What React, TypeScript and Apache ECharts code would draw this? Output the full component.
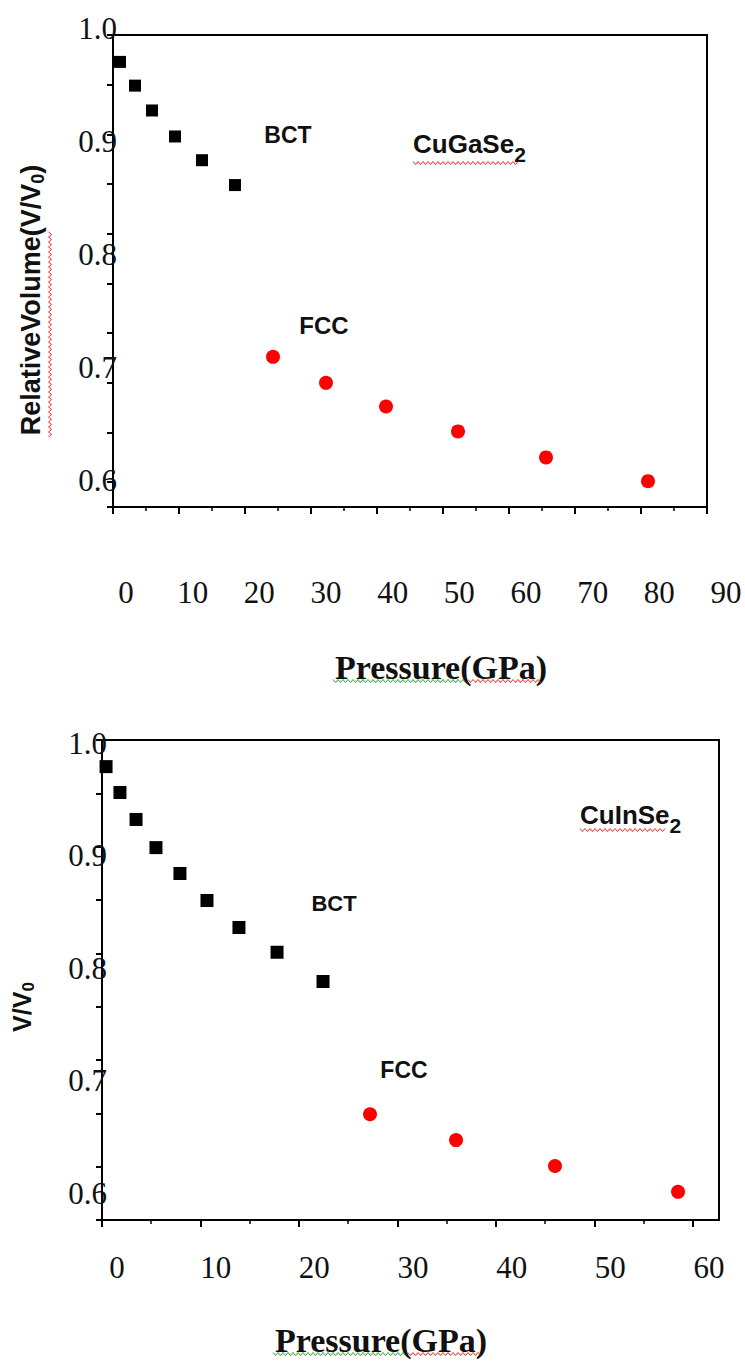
import React, { useEffect, useRef } from "react";
import * as echarts from "echarts";

// ---- Data (in the units of the printed tick labels) ----
// Top panel: CuGaSe2
const topBctPressure = [-0.9, 1.35, 3.9, 7.35, 11.4, 16.35];
const topBctVolume = [0.97, 0.949, 0.927, 0.904, 0.883, 0.861];
const topFccPressure = [22.05, 30.0, 39.0, 49.8, 63.0, 78.3];
const topFccVolume = [0.709, 0.686, 0.665, 0.643, 0.62, 0.599];
// Bottom panel: CuInSe2
const botBctPressure = [-1.11, 0.3, 1.93, 3.95, 6.38, 9.12, 12.36, 16.22, 20.88];
const botBctVolume = [0.979, 0.956, 0.932, 0.907, 0.884, 0.86, 0.836, 0.814, 0.788];
const botFccPressure = [25.64, 34.36, 44.39, 56.86];
const botFccVolume = [0.67, 0.647, 0.624, 0.601];

// Tick marks of the frames
const botMajorTicks = [0, 10, 20, 30, 40, 50, 60];
const botMinorTicks = [5, 15, 25, 35, 45, 55];

const serif = "'Liberation Serif', 'Times New Roman', serif";
const sans = "'Liberation Sans', Arial, sans-serif";
const ink = "#111";

const zip = (a: number[], b: number[]) => a.map((v, i) => [v, b[i]]);

function zigH(x0: number, x1: number, y: number, color: string) {
  const pts: number[][] = [];
  let i = 0;
  for (let x = x0; x <= x1; x += 2.5, i++) pts.push([x, y + (i % 2 ? 1.5 : -1.5)]);
  return { type: "polyline", silent: true, shape: { points: pts }, style: { stroke: color, lineWidth: 1, fill: null } };
}
function zigV(x: number, y0: number, y1: number, color: string) {
  const pts: number[][] = [];
  let i = 0;
  for (let y = y0; y <= y1; y += 2.5, i++) pts.push([x + (i % 2 ? 1.5 : -1.5), y]);
  return { type: "polyline", silent: true, shape: { points: pts }, style: { stroke: color, lineWidth: 1, fill: null } };
}

const frameLine = { show: true, onZero: false, lineStyle: { color: "#000", width: 2 } };
const noLine = { show: false, onZero: false };

function labelText(x: number, y: number, text: string, size = 23) {
  return {
    type: "text",
    x,
    y,
    silent: true,
    style: { text, fontFamily: sans, fontWeight: "bold", fontSize: size, fill: ink, align: "center", verticalAlign: "middle" },
  };
}

function formula(x: number, y: number, main: string, sub: string) {
  return {
    type: "text",
    x,
    y,
    silent: true,
    style: {
      text: `{m|${main}}{s|${sub}}`,
      fill: ink,
      align: "left",
      verticalAlign: "top",
      rich: {
        m: { fontFamily: sans, fontWeight: "bold", fontSize: 26, lineHeight: 30, verticalAlign: "top", fill: ink },
        s: { fontFamily: sans, fontWeight: "bold", fontSize: 21, lineHeight: 22, padding: [13, 0, 0, 0], verticalAlign: "top", fill: ink },
      },
    },
  };
}

function yTitle(x: number, y: number, main: string, sub: string, tail: string, size: number) {
  return {
    type: "text",
    x,
    y,
    rotation: Math.PI / 2,
    silent: true,
    style: {
      text: `{m|${main}}{s|${sub}}{m|${tail}}`,
      fill: ink,
      align: "center",
      verticalAlign: "middle",
      rich: {
        m: { fontFamily: sans, fontWeight: "bold", fontSize: size, lineHeight: size + 4, verticalAlign: "top", fill: ink },
        s: { fontFamily: sans, fontWeight: "bold", fontSize: Math.round(size * 0.68), lineHeight: Math.round(size * 0.68), padding: [Math.round(size * 0.4), 0, 0, 0], verticalAlign: "top", fill: ink },
      },
    },
  };
}

function xTitle(x: number, y: number) {
  return {
    type: "text",
    x,
    y,
    silent: true,
    style: { text: "Pressure(GPa)", fontFamily: serif, fontWeight: "bold", fontSize: 34, fill: ink, align: "center", verticalAlign: "middle" },
  };
}

export default function App() {
  const ref = useRef<HTMLDivElement>(null);
  useEffect(() => {
    if (!ref.current) return;
    const chart = echarts.init(ref.current, null, { renderer: "svg" });
    const tickLabel = { fontFamily: serif, fontSize: 31, color: ink };
    const option: any = {
      animation: false,
      backgroundColor: "#fff",
      grid: [
        { left: 113, top: 35, width: 594, height: 472, show: true, borderColor: "#000", borderWidth: 2, backgroundColor: "transparent", outerBoundsMode: "none" },
        { left: 126, top: 28, width: 600, height: 452, outerBoundsMode: "none" },
        { left: 102, top: 740, width: 617, height: 480, show: true, borderColor: "#000", borderWidth: 2, backgroundColor: "transparent", outerBoundsMode: "none" },
        { left: 117, top: 743, width: 592, height: 450, outerBoundsMode: "none" },
      ],
      xAxis: [
        {
          gridIndex: 0, type: "value", min: 0, max: 90, interval: 10, position: "bottom",
          axisLine: frameLine,
          axisTick: { show: true, inside: false, length: 7, lineStyle: { color: "#000", width: 2 } },
          minorTick: { show: true, splitNumber: 2, length: 4, lineStyle: { color: "#000", width: 1.5 } },
          axisLabel: { show: false }, splitLine: { show: false }, minorSplitLine: { show: false },
        },
        {
          gridIndex: 1, type: "value", min: 0, max: 90, interval: 10, position: "bottom",
          axisLine: noLine, axisTick: { show: false }, splitLine: { show: false },
          axisLabel: { ...tickLabel, margin: 112, verticalAlign: "middle", showMinLabel: true, showMaxLabel: true },
        },
        {
          gridIndex: 2, type: "value", min: 0, max: 62.64, position: "bottom",
          axisLine: frameLine,
          axisTick: { show: true, inside: false, length: 7, customValues: botMajorTicks, lineStyle: { color: "#000", width: 2 } },
          axisLabel: { show: false }, splitLine: { show: false },
        },
        {
          gridIndex: 2, type: "value", min: 0, max: 62.64, position: "bottom",
          axisLine: noLine,
          axisTick: { show: true, inside: false, length: 4, customValues: botMinorTicks, lineStyle: { color: "#000", width: 1.5 } },
          axisLabel: { show: false }, splitLine: { show: false },
        },
        {
          gridIndex: 3, type: "value", min: 0, max: 60, interval: 10, position: "bottom",
          axisLine: noLine, axisTick: { show: false }, splitLine: { show: false },
          axisLabel: { ...tickLabel, margin: 74, verticalAlign: "middle", showMinLabel: true, showMaxLabel: true },
        },
      ],
      yAxis: [
        {
          gridIndex: 0, type: "value", min: 0, max: 9.5, interval: 1, inverse: true, position: "left",
          axisLine: frameLine,
          axisTick: { show: true, inside: false, length: 6, lineStyle: { color: "#000", width: 2 } },
          axisLabel: { show: false }, splitLine: { show: false },
        },
        {
          gridIndex: 1, type: "value", min: 0.6, max: 1.0, interval: 0.1, position: "left",
          axisLine: noLine, axisTick: { show: false }, splitLine: { show: false },
          axisLabel: { ...tickLabel, margin: 9, showMinLabel: true, showMaxLabel: true, formatter: (v: number) => v.toFixed(1) },
        },
        {
          gridIndex: 2, type: "value", min: 0, max: 9, interval: 1, position: "left",
          axisLine: frameLine,
          axisTick: { show: true, inside: false, length: 6, lineStyle: { color: "#000", width: 2 } },
          axisLabel: { show: false }, splitLine: { show: false },
        },
        {
          gridIndex: 3, type: "value", min: 0.6, max: 1.0, interval: 0.1, position: "left",
          axisLine: noLine, axisTick: { show: false }, splitLine: { show: false },
          axisLabel: { ...tickLabel, margin: 10, showMinLabel: true, showMaxLabel: true, formatter: (v: number) => v.toFixed(1) },
        },
      ],
      series: [
        { name: "CuGaSe2 BCT", type: "scatter", xAxisIndex: 1, yAxisIndex: 1, data: zip(topBctPressure, topBctVolume), symbol: "rect", symbolSize: 12, itemStyle: { color: "#000", opacity: 1 }, clip: false },
        { name: "CuGaSe2 FCC", type: "scatter", xAxisIndex: 1, yAxisIndex: 1, data: zip(topFccPressure, topFccVolume), symbol: "circle", symbolSize: 14, itemStyle: { color: "#ff0000", opacity: 1 }, clip: false },
        { name: "CuInSe2 BCT", type: "scatter", xAxisIndex: 4, yAxisIndex: 3, data: zip(botBctPressure, botBctVolume), symbol: "rect", symbolSize: 13, itemStyle: { color: "#000", opacity: 1 }, clip: false },
        { name: "CuInSe2 FCC", type: "scatter", xAxisIndex: 4, yAxisIndex: 3, data: zip(botFccPressure, botFccVolume), symbol: "circle", symbolSize: 14, itemStyle: { color: "#ff0000", opacity: 1 }, clip: false },
      ],
      graphic: [
        labelText(288, 135, "BCT"),
        labelText(324, 325, "FCC", 24),
        formula(413, 131, "CuGaSe", "2"),
        yTitle(33, 300, "RelativeVolume(V/V", "0", ")", 27),
        xTitle(441, 667),
        labelText(334, 903, "BCT", 22),
        labelText(404, 1070, "FCC", 23),
        formula(580, 802, "CuInSe", "2"),
        yTitle(24, 1007, "V/V", "0", "", 25),
        xTitle(381, 1340),
        zigH(413, 520, 163, "#ff2020"),
        zigV(50, 232, 437, "#ff2020"),
        zigH(333, 467, 681, "#2aa52a"),
        zigH(468, 542, 681, "#ff2020"),
        zigH(580, 667, 830, "#ff2020"),
        zigH(273, 407, 1354, "#2aa52a"),
        zigH(408, 482, 1354, "#ff2020"),
      ],
    };
    chart.setOption(option);
    return () => chart.dispose();
  }, []);
  return <div ref={ref} style={{ position: "absolute", left: 0, top: 0, width: 745, height: 1361 }} />;
}
